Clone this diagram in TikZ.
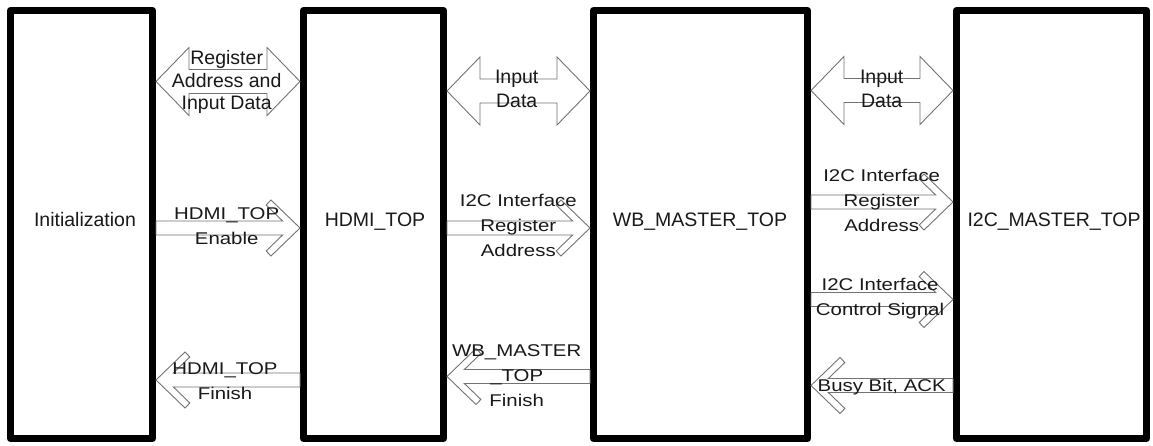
\documentclass[tikz,border=0pt]{standalone}
\usepackage{fontspec}
\setmainfont{Liberation Sans}
\newfontfamily\arrowfont[FakeStretch=1.2]{Liberation Sans}
\usetikzlibrary{calc}
\newcommand{\dblarrow}[2]{%
  \draw[arr] (#1) -- ++(33,34) -- ++(0,-22) -- ($(#2)+(-33,12)$) -- ++(0,22) -- (#2)
    -- ++(-33,-34) -- ++(0,22) -- ($(#1)+(33,-12)$) -- ++(0,-22) -- cycle;}
\newcommand{\chevright}[2]{%
  \draw[arr] ($(#1)+(0,7)$) -- ($(#2)+(-17.33,7)$) -- ++(-16.53,15.96) -- ++(4.86,5.04) -- (#2)
    -- ++(-29,-28) -- ++(-4.86,5.04) -- ($(#2)+(-17.33,-7)$) -- ($(#1)+(0,-7)$) -- cycle;}
\newcommand{\chevleft}[2]{%
  \draw[arr] ($(#1)+(0,7)$) -- ($(#2)+(17.33,7)$) -- ++(16.53,15.96) -- ++(-4.86,5.04) -- (#2)
    -- ++(29,-28) -- ++(4.86,5.04) -- ($(#2)+(17.33,-7)$) -- ($(#1)+(0,-7)$) -- cycle;}
\begin{document}
\begin{tikzpicture}[x=1pt,y=1pt,
  box/.style={draw=black, line width=7pt, line join=round, fill=white, inner sep=0pt,
    outer sep=3.5pt, minimum height=428pt},
  arr/.style={draw=black!55, line width=0.9pt, fill=white, line join=miter},
  blab/.style={font=\fontsize{19.5}{23}\selectfont, text=black!90, anchor=base, inner sep=0pt},
  dlab/.style={font=\fontsize{19.5}{#1}\selectfont, text=black!90, align=center, anchor=base, inner sep=0pt},
  dlab/.default=24.5,
  alab/.style={font=\arrowfont\fontsize{17}{25}\selectfont, text=black!90, align=center, anchor=base, inner sep=0pt}]
\useasboundingbox (0,0) rectangle (1153,-446);
\fill[white] (0,0) rectangle (1153,-446);

% boxes
\node[box, minimum width=142pt] (b1) at (81.5,-224.5) {};
\node[box, minimum width=140pt] (b2) at (373.5,-224.5) {};
\node[box, minimum width=214pt] (b3) at (700.5,-224.5) {};
\node[box, minimum width=190pt] (b4) at (1051.5,-224.5) {};

% connector end points on the box borders
\coordinate (a1l) at (b1.east |- 0,-81.5);  \coordinate (a1r) at (b2.west |- 0,-81.5);
\coordinate (a2l) at (b2.east |- 0,-91);    \coordinate (a2r) at (b3.west |- 0,-91);
\coordinate (a3l) at (b3.east |- 0,-90.5);  \coordinate (a3r) at (b4.west |- 0,-90.5);
\coordinate (a4s) at (b1.east |- 0,-228);   \coordinate (a4t) at (b2.west |- 0,-228);
\coordinate (a5s) at (b2.east |- 0,-228);   \coordinate (a5t) at (b3.west |- 0,-228);
\coordinate (a6s) at (b3.west |- 0,-376.5); \coordinate (a6t) at (b2.east |- 0,-376.5);
\coordinate (a7s) at (b2.west |- 0,-380);   \coordinate (a7t) at (b1.east |- 0,-380);
\coordinate (a8s) at (b3.east |- 0,-202);   \coordinate (a8t) at (b4.west |- 0,-202);
\coordinate (a9s) at (b3.east |- 0,-299.5); \coordinate (a9t) at (b4.west |- 0,-299.5);
\coordinate (a10s) at (b4.west |- 0,-385.5); \coordinate (a10t) at (b3.east |- 0,-385.5);

% connectors
\dblarrow{a1l}{a1r}
\dblarrow{a2l}{a2r}
\dblarrow{a3l}{a3r}
\chevright{a4s}{a4t}
\chevright{a5s}{a5t}
\chevleft{a6s}{a6t}
\chevleft{a7s}{a7t}
\chevright{a8s}{a8t}
\chevright{a9s}{a9t}
\chevleft{a10s}{a10t}

% box labels
\node[blab] (l1) at (85,-226.7) {Initialization};
\node[blab] (l2) at (375,-226.7) {HDMI\_TOP};
\node[blab] (l3) at (700,-226.7) {WB\_MASTER\_TOP};
\node[blab] (l4) at (1054,-226.7) {I2C\_MASTER\_TOP};

% connector labels (base = baseline of the last line)
\node[dlab=22.5] (t1) at (226.7,-110) {Register\\Address and\\Input Data};
\node[dlab] (t2) at (516.7,-108) {Input\\Data};
\node[dlab] (t3) at (881.7,-108) {Input\\Data};
\node[alab] (t4) at (226.7,-245) {HDMI\_TOP\\Enable};
\node[alab] (t5) at (518.3,-256.3) {I2C Interface\\Register\\Address};
\node[alab] (t6) at (516.7,-406.7) {WB\_MASTER\\\_TOP\\Finish};
\node[alab] (t7) at (225,-399.5) {HDMI\_TOP\\Finish};
\node[alab] (t8) at (881.7,-231.7) {I2C Interface\\Register\\Address};
\node[alab] (t9) at (880,-315) {I2C Interface\\Control Signal};
\node[alab] (t10) at (881.7,-391.7) {Busy Bit, ACK};
\end{tikzpicture}
\end{document}
